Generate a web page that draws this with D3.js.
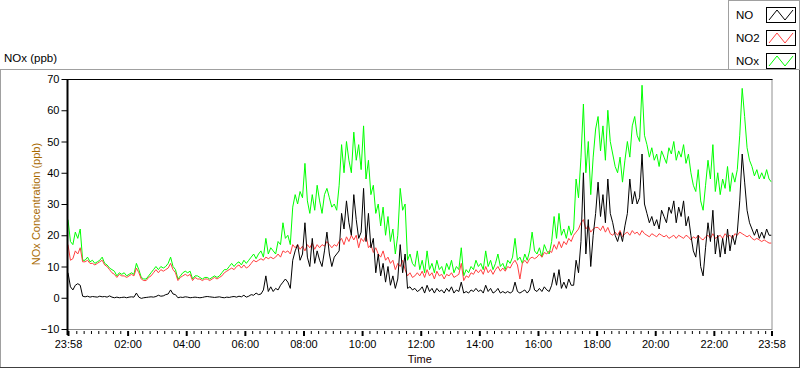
<!DOCTYPE html>
<html><head><meta charset="utf-8">
<script src="https://cdn.jsdelivr.net/npm/d3@7"></script>
<style>
html,body{margin:0;padding:0;background:#fff;}
svg{display:block;font-family:"Liberation Sans",Arial,sans-serif;}
</style></head>
<body><svg id="c" width="800" height="369"></svg>
<script>
// 5-minute samples starting 23:58
const NO = [
8,3.5,2.5,4,4.5,4,0.5,0.3,0.5,0.2,0.4,0.3,
0.2,0.5,0.3,0.4,0.2,0.6,0.2,0,0.2,0,0.1,0.2,
0,0.2,0.3,0.2,1.5,0.2,-0.2,0,0.1,0.2,0.3,0.2,
0.4,0.8,0.5,0.6,1,1.2,2.5,1.2,1,0,0.2,0.1,
0.3,0.2,0,0.1,0.2,0.1,0,0.1,0.3,0.4,0.3,0.2,
0.1,0.2,0.3,0.1,0,0.2,0.1,0.3,0.4,0.2,0.5,0.3,
0.8,
0.2,0.5,1,0.8,1.5,1,1.2,2.5,7,2,3.5,2,
3,2.5,4,5,6,5,3,12,15,17,12,14,
24,13,10,19,11,15,12,10,15,21,14,10,
13,14,15,27,22,31,24,20,33,25,19,21,
35,18,27,16,19,8,14,7,11,5,10,4,
7,3,6,17,8,14,3,3.5,2.5,3,2,
2.5,3.5,1.5,4,2,3,1.5,3,2,2.5,1.5,3,
2,3.5,1.5,2.5,2,5,1.5,2,1.5,2.5,2,3,
2,2.5,1.5,4,2,3,1.5,2,3,1.5,2,1.5,
2,1.5,2,5,2,1.5,2,2.5,1.5,2.5,6,2.5,
2,3,2,3.5,2.5,2,4,8,4,9,3,5,
3,6,4,4,12,8,18,40,14,25,10,20,
27,
37,26,33,24,38,27,24,20,18,21,18,23,
27,38,30,34,30,32,46,30,27,24,26,23,
25,22,28,26,24,29,27,31,24,29,26,31,
23,26,20,15,13,20,10,7,16,24,18,28,
14,20,13,19,14,22,15,20,17,21,31,46,
37,28,24,22,20,22,19,21,19,22,20,20
];
const NO2 = [
17,12,12.5,15,14,16,11.5,11.5,12,11,11,10.5,
11,11.5,12,10.5,10,9,8,7.5,6.5,7.5,7,7,
6.5,7,7.5,7,9.5,8,6,5.5,5.5,6.5,7,8,
9,8,9,8.5,9,9.5,11,9,8,5.5,6.5,7,
7.5,7,7.5,5.5,6.5,6,6,5.5,6,6,5.5,6,
6.5,6,6.5,7,8,8.5,9,9.5,9,10,10.5,9.5,
10.5,
9.5,10,11,12,11.5,12,12.5,12,13,12.5,13,12.5,
13,14,13,15,14.5,15,14,17,16,17,15.5,16.5,
15,17,16,17.5,15.5,17,16,17,16.5,18,17,16,
17,16.5,18,19,17,19.5,18,20,18.5,20,16,19,
18,20,16,17,14.5,16,14,13,15,12,13,11,
12,9,11,10,12,9,7,8,6.5,7,8,
7,8.5,6.5,9,7,8,6,8.5,7,7.5,6,7.5,
7,8,6.5,7,7.5,11,5.5,7,6.5,8,7.5,9,
8,9,7.5,10,8,9,7.5,9,10,8.5,9.5,8.5,
10,9.5,11,12,10.5,6,11,12,11,12.5,13,12.5,
13,14,13,14.5,14,15,14.5,17,15.5,18,16,18,
17,19,18,20,21,22,24,25,22,23,21,22,
22.5,
22.5,21.5,23,21,22.5,20.5,20,21,20,21.5,19.5,20.5,
21,20,21.5,20.5,21,20,21.5,20.5,20,19.5,20.5,20,
19.5,20.5,20,19.5,20,19,19.5,20,19,20,19.5,19,
20,19.5,18.5,19.5,19,20,19,18.5,19.5,20,19,20.5,
19,19.5,20,19,20.5,19.5,20,19,20.5,20,21,20.5,
20,19.5,20,19,18.5,19,18.5,18,18.5,18,17.5,17.5
];
const NOX = [
25,18,17,21,19,22,12,12,13,11.5,12,11,
11.5,12,13,11,10.5,9.5,9,8.5,7,8,7.5,8,
7,7.5,8,7.5,11,9,6.5,6,6,7,8,9,
10,9,10,9.5,10,11,13,10,9,6,7,8,
8.5,8,8.5,6,7,7,6.5,6,6.5,6.5,6,6.5,
7,6.5,7,8,9,9,10,11,10,11,11.5,10.5,
12,
11,12,13,14,12.5,14,15,13,19,14,16,15,
14,18,17,24,19,20,17,29,33,30,34,32,
43,31,27,33,28,36,31,27,33,35,32,29,
30,28,36,49,40,50,44,40,53,44,49,41,
55,38,44,33,36,27,30,23,29,20,26,18,
22,14,20,35,28,30,12,14,11,10,15,
9,12,8,15,9,11,8,12,9,10,7.5,11,
9,12,8,10,9,16,7,9,8,10,9,12,
10,11,9,15,10,12,9,11,14,10,11,9,
12,11,13,19,12,13,11,14,12,15,21,15,
14,16,13,17,15,14,18,26,19,27,20,22,
19,23,20,22,38,32,45,62,40,50,33,45,
54,
58,47,55,44,60,50,46,42,40,45,37,44,
50,45,55,58,52,50,68,52,49,45,48,44,
46,42,47,45,43,48,46,50,44,47,45,49,
43,46,40,36,34,41,31,28,36,44,38,49,
34,40,33,38,35,42,34,40,37,41,52,67,
58,48,44,42,39,41,38,40,38,41,38,37
];
const seriesNames = ["NO","NO2","NOx"];
const seriesColors = ["#000000","#ff4040","#00ff00"];
const yTicks = [-10,0,10,20,30,40,50,60,70];
const xTickLabels = ["23:58","02:00","04:00","06:00","08:00","10:00","12:00","14:00","16:00","18:00","20:00","22:00","23:58"];

const svg = d3.select("#c");
const start = new Date(2000,0,1,23,58);
const end = new Date(start.getTime()+24*3600e3);
const stepMs = 5*60e3;
const tOf = i => new Date(start.getTime()+i*stepMs);

const L=68, R=771.5, T=79, B=329;
const x = d3.scaleTime().domain([start,end]).range([L,R]);
const y = d3.scaleLinear().domain([-10,70]).range([B,T]);

// outer frame
svg.append("line").attr("x1",0).attr("x2",728).attr("y1",69.5).attr("y2",69.5).attr("stroke","#a0a0a0");
svg.append("line").attr("x1",0.5).attr("x2",0.5).attr("y1",69).attr("y2",368).attr("stroke","#a0a0a0");
svg.append("line").attr("x1",0).attr("x2",800).attr("y1",367.5).attr("y2",367.5).attr("stroke","#404040");
svg.append("line").attr("x1",799.5).attr("x2",799.5).attr("y1",0).attr("y2",368).attr("stroke","#404040");

// legend
const lg = svg.append("g");
lg.append("rect").attr("x",728.5).attr("y",0.5).attr("width",71).attr("height",69).attr("fill","#fff").attr("stroke","#a0a0a0");
seriesNames.forEach((n,k)=>{
  const cy = 15 + k*23;
  lg.append("text").attr("x",736).attr("y",cy+4).attr("font-size",11.5).attr("fill","#000").text(n);
  lg.append("rect").attr("x",766.5).attr("y",cy-7.5).attr("width",29).attr("height",15).attr("fill","#fff").attr("stroke","#000");
  const pts = [[769,cy+5],[777,cy-5],[785,cy+5],[793,cy-5]];
  lg.append("path").attr("d",d3.line()(pts)).attr("fill","none").attr("stroke",seriesColors[k]).attr("stroke-width",1);
});

// titles
svg.append("text").attr("x",4).attr("y",62).attr("font-size",11.5).attr("fill","#000").text("NOx (ppb)");
svg.append("text").attr("transform","translate(40,"+((T+B)/2)+") rotate(-90)").attr("text-anchor","middle")
  .attr("font-size",11).attr("fill","#a86a00").text("NOx Concentration (ppb)");
svg.append("text").attr("x",(L+R)/2).attr("y",363).attr("text-anchor","middle").attr("font-size",11).attr("fill","#200000").text("Time");

// plot borders
svg.append("line").attr("x1",R+0.5).attr("x2",R+0.5).attr("y1",T).attr("y2",B).attr("stroke","#909090");
svg.append("line").attr("x1",L).attr("x2",R+1).attr("y1",B+0.5).attr("y2",B+0.5).attr("stroke","#909090");
svg.append("line").attr("x1",L).attr("x2",R+1).attr("y1",T+0.5).attr("y2",T+0.5).attr("stroke","#000");

// clip + lines
svg.append("clipPath").attr("id","pc").append("rect").attr("x",L).attr("y",T+1).attr("width",R-L).attr("height",B-T-1);
const lineGen = d3.line().x((d,i)=>x(tOf(i))).y(d=>y(d));
const gl = svg.append("g").attr("clip-path","url(#pc)");
[[NOX,2],[NO2,1],[NO,0]].forEach(([arr,k])=>{
  gl.append("path").datum(arr).attr("d",lineGen).attr("fill","none").attr("stroke",seriesColors[k]).attr("stroke-width",1);
});

// y axis
const yAxis = d3.axisLeft(y).tickValues(yTicks).tickSize(6).tickPadding(2).tickFormat(d3.format("d"));
const gy = svg.append("g").attr("transform","translate("+(L-0.5)+",0)").call(yAxis);
gy.select(".domain").attr("d","M0,"+T+"V"+(B+6)).attr("stroke","#000").attr("stroke-width",2);
gy.selectAll("text").attr("font-size",11).attr("font-family","Liberation Sans, Arial, sans-serif").attr("fill","#000");

// x axis
const majorTimes = xTickLabels.map((s,k)=>{
  if(k===0) return start;
  if(k===xTickLabels.length-1) return end;
  const [h,m]=s.split(":").map(Number);
  return new Date(2000,0,2,h,m);
});
const minorTimes = [];
for(let m=15; m<24*60; m+=15){ if(m%120!==0) minorTimes.push(new Date(2000,0,2,0,m)); }
const gxm = svg.append("g").attr("transform","translate(0,"+(B+2)+")")
  .call(d3.axisBottom(x).tickValues(minorTimes).tickSize(3).tickFormat(""));
gxm.select(".domain").remove();
const gx = svg.append("g").attr("transform","translate(0,"+(B+2)+")")
  .call(d3.axisBottom(x).tickValues(majorTimes).tickSize(5).tickPadding(4).tickFormat((d,k)=>xTickLabels[k]));
gx.select(".domain").remove();
gx.selectAll(".tick line").attr("stroke-width",2);
gx.selectAll("text").attr("font-size",11).attr("font-family","Liberation Sans, Arial, sans-serif").attr("fill","#000");
</script></body></html>
